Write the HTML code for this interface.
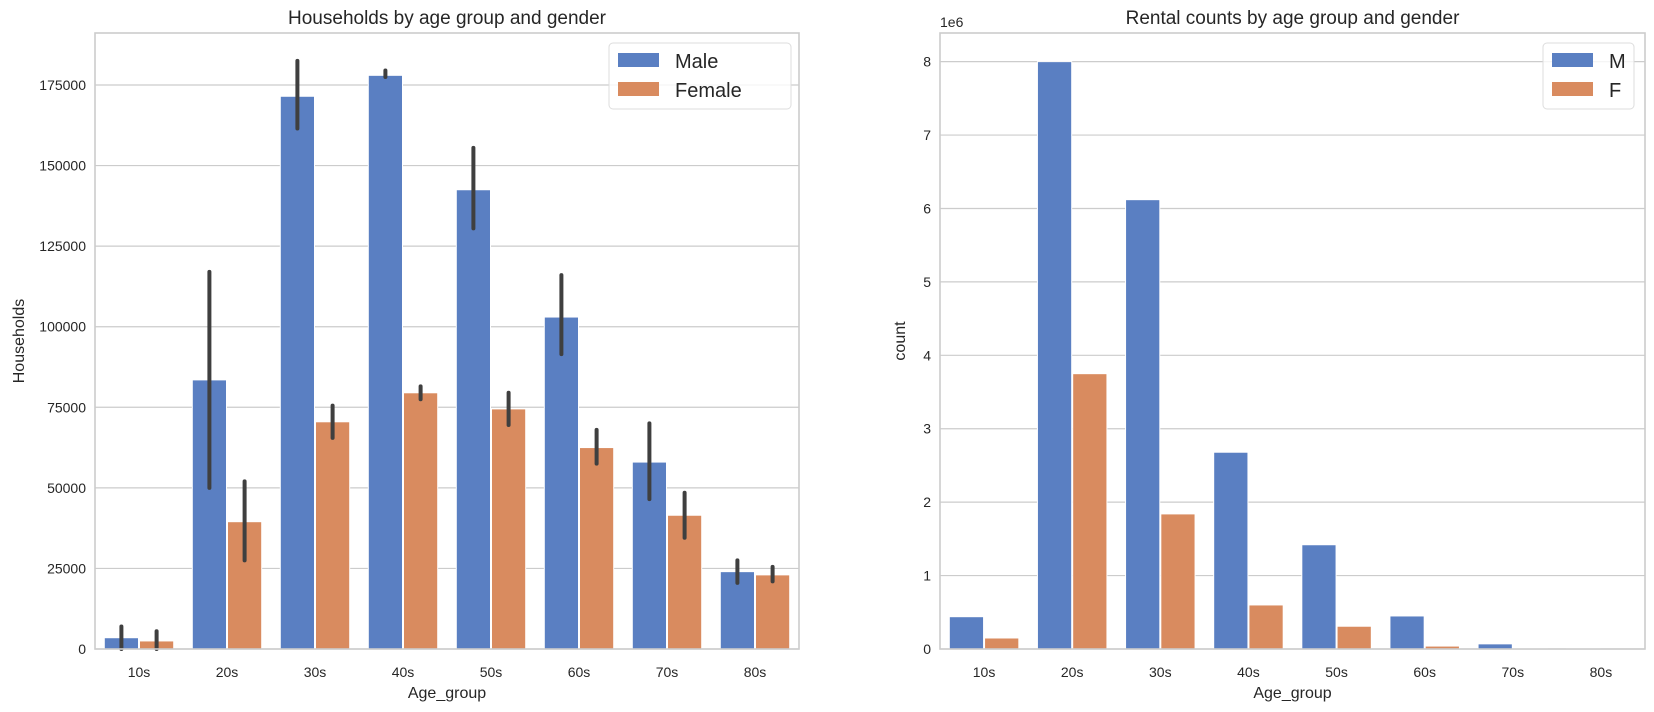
<!DOCTYPE html>
<html><head><meta charset="utf-8"><style>
body{margin:0;background:#fff;font-family:"Liberation Sans",sans-serif;}
svg text{font-family:"Liberation Sans",sans-serif;fill:#262626;}
</style></head><body>
<svg id="c" width="1654" height="707"></svg>
<script>
const cats=["10s","20s","30s","40s","50s","60s","70s","80s"];
const hhMale=[3500,83500,171500,178000,142500,103000,58000,24000];
const hhMaleLo=[0,50000,161500,177500,130500,91500,46500,20500];
const hhMaleHi=[7000,117000,182500,179500,155500,116000,70000,27500];
const hhFemale=[2500,39500,70500,79500,74500,62500,41500,23000];
const hhFemaleLo=[0,27500,65500,77500,69500,57500,34500,21000];
const hhFemaleHi=[5500,52000,75500,81500,79500,68000,48500,25500];
const hhTicks=[0,25000,50000,75000,100000,125000,150000,175000];
const rentM=[0.44,8.0,6.12,2.68,1.42,0.45,0.07,0.005];
const rentF=[0.15,3.75,1.84,0.6,0.31,0.04,0.005,0.002];
const rentTicks=[0,1,2,3,4,5,6,7,8];
const BLUE="#5a7fc2",ORANGE="#d98b5f";
const NS="http://www.w3.org/2000/svg";
const svg=document.getElementById('c');
function mk(tag,attrs,parent,text){const e=document.createElementNS(NS,tag);for(const k in attrs)e.setAttribute(k,attrs[k]);if(text!==undefined)e.textContent=text;(parent||svg).appendChild(e);return e;}
function chart(o){
  const g=mk('g',{});
  
  
  const y=v=>o.y1-(v-0)/(o.ymax)*(o.y1-o.y0);
  const bw=(o.x1-o.x0)/cats.length;
  const cx=i=>o.x0+bw*(i+0.5);
  o.ticks.forEach(t=>{
    const gl=mk('line',{x1:o.x0,x2:o.x1,y1:y(t),y2:y(t),stroke:'#cccccc','stroke-width':1.2},g);
    
    const tl=mk('text',{x:o.x0-9,y:y(t)+5,'text-anchor':'end','font-size':14},g,o.fmt(t));
    
  });
  const w=bw*0.4;
  cats.forEach((c,i)=>{
    [[o.a,BLUE,-1,o.aLo,o.aHi],[o.b,ORANGE,0,o.bLo,o.bHi]].forEach(([arr,col,off,lo,hi])=>{
      const x=cx(i)+off*w;
      const r=mk('rect',{x:x+0.5,y:y(arr[i]),width:w-1,height:Math.max(0,o.y1-y(arr[i])),fill:col,stroke:'#fff','stroke-width':1},g);
      
      if(lo){const e=mk('line',{x1:x+w/2,x2:x+w/2,y1:y(lo[i]),y2:y(hi[i]),stroke:'#3f3f3f','stroke-width':4,'stroke-linecap':'round'},g);
        }
    });
    const xl=mk('text',{x:cx(i),y:o.y1+28,'text-anchor':'middle','font-size':14},g,c);
    
  });
  const fr=mk('rect',{x:o.x0,y:o.y0,width:o.x1-o.x0,height:o.y1-o.y0,fill:'none',stroke:'#cccccc','stroke-width':1.6},g);
  
  const t=mk('text',{x:(o.x0+o.x1)/2,y:o.y0-9,'text-anchor':'middle','font-size':19},g,o.title);
  
  const xt=mk('text',{x:(o.x0+o.x1)/2,y:o.y1+49,'text-anchor':'middle','font-size':16},g,'Age_group');
  
  const yt=mk('text',{x:0,y:0,'text-anchor':'middle','font-size':16,transform:`translate(${o.ylabX},${(o.y0+o.y1)/2}) rotate(-90)`},g,o.ylabel);
  
  const L=o.leg;
  const lg=mk('g',{},g);
  
  mk('rect',{x:L.x,y:43,width:L.w,height:66,rx:4,fill:'#fff','fill-opacity':0.8,stroke:'#dddddd'},lg);
  [[L.a,BLUE,0],[L.b,ORANGE,1]].forEach(([lab,col,k])=>{
    const sw=mk('rect',{x:L.x+9,y:53+k*29,width:41,height:14,fill:col},lg);
    
    const tx=mk('text',{x:L.x+66,y:68+k*29,'font-size':20},lg,lab);
    
  });
  return g;
}
chart({name:'households-chart',x0:95,x1:799,y0:33,y1:649,ymax:191135,ticks:hhTicks,fmt:t=>String(t),
  a:hhMale,aLo:hhMaleLo,aHi:hhMaleHi,b:hhFemale,bLo:hhFemaleLo,bHi:hhFemaleHi,
  title:'Households by age group and gender',ylabel:'Households',ylabX:24,leg:{x:609,w:182,a:'Male',b:'Female'}});
chart({name:'rental-chart',x0:940,x1:1645,y0:33,y1:649,ymax:8.39,ticks:rentTicks,fmt:t=>String(t),
  a:rentM,b:rentF,title:'Rental counts by age group and gender',ylabel:'count',ylabX:905,leg:{x:1543,w:91,a:'M',b:'F'}});
const oe=mk('text',{x:940,y:27,'font-size':14},svg,'1e6');


</script>
</body></html>
